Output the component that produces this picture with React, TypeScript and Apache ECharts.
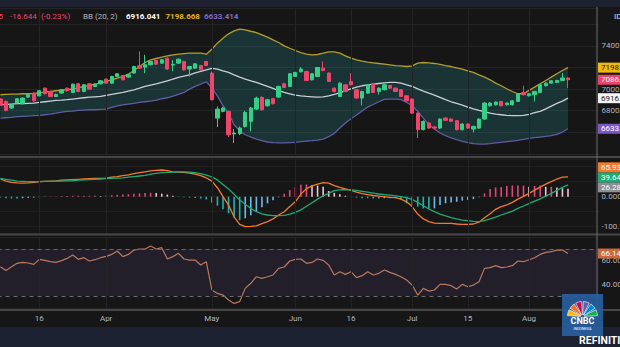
import { useEffect, useRef } from "react";
import * as echarts from "echarts";

const tradingDates = [
  "2022-03-07","2022-03-08","2022-03-09","2022-03-10","2022-03-11","2022-03-14","2022-03-15","2022-03-16","2022-03-17","2022-03-18",
  "2022-03-21","2022-03-22","2022-03-23","2022-03-24","2022-03-25","2022-03-28","2022-03-29","2022-03-30","2022-03-31",
  "2022-04-01","2022-04-04","2022-04-05","2022-04-06","2022-04-07","2022-04-08","2022-04-11","2022-04-12","2022-04-13","2022-04-14",
  "2022-04-18","2022-04-19","2022-04-20","2022-04-21","2022-04-22","2022-04-25","2022-04-26","2022-04-27","2022-04-28",
  "2022-05-09","2022-05-10","2022-05-11","2022-05-12","2022-05-13","2022-05-17","2022-05-18","2022-05-19","2022-05-20",
  "2022-05-23","2022-05-24","2022-05-25","2022-05-27","2022-05-30","2022-05-31",
  "2022-06-02","2022-06-03","2022-06-06","2022-06-07","2022-06-08","2022-06-09","2022-06-10","2022-06-13","2022-06-14","2022-06-15",
  "2022-06-16","2022-06-17","2022-06-20","2022-06-21","2022-06-22","2022-06-23","2022-06-24","2022-06-27","2022-06-28","2022-06-29","2022-06-30",
  "2022-07-01","2022-07-04","2022-07-05","2022-07-06","2022-07-07","2022-07-08","2022-07-11","2022-07-12","2022-07-13","2022-07-14",
  "2022-07-15","2022-07-18","2022-07-19","2022-07-20","2022-07-21","2022-07-22","2022-07-25","2022-07-26","2022-07-27","2022-07-28","2022-07-29",
  "2022-08-01","2022-08-02","2022-08-03","2022-08-04","2022-08-05","2022-08-08","2022-08-09","2022-08-10"
];
const futureDates = ["2022-08-11", "2022-08-12", "2022-08-15", "2022-08-16", "2022-08-18"];

const opens = [
  6908,6886,6825,6871,6865,6926,6963,6938,7009,6978,
  6932,6963,7009,6969,7049,6978,7049,7025,7049,7092,
  7055,7117,7126,7111,7148,7215,7203,7225,7265,7240,
  7286,7222,7240,7255,7185,7194,7218,7255,7148,6732,
  6794,6794,6585,6588,6655,6702,6815,6923,6846,6911,
  6926,7049,7025,7117,7160,7163,7086,7117,7194,7148,
  7009,6932,7040,7071,6994,6917,6963,7049,6978,6994,
  7034,7009,6994,6938,6908,6778,6625,6686,6649,6640,
  6732,6723,6708,6625,6677,6631,6640,6723,6846,6855,
  6886,6855,6855,6886,6969,6938,6948,6969,7031,7055,
  7062,7080,7103.289
];
const highs = [
  6915,6895,6862,6918,6925,6955,6970,6992,7015,6985,
  6958,7000,7015,7052,7055,7046,7055,7052,7083,7098,
  7123,7148,7132,7138,7215,7348,7317,7262,7271,7277,
  7292,7268,7283,7262,7215,7240,7225,7262,7163,6840,
  6835,6800,6631,6655,6800,6835,6930,6935,6910,6918,
  7032,7058,7148,7160,7203,7170,7148,7206,7255,7154,
  7015,7062,7046,7148,7000,6985,7046,7055,7015,7046,
  7040,7015,7000,6945,6915,6785,6711,6695,6660,6730,
  6740,6730,6715,6685,6685,6662,6730,6880,6880,6886,
  6892,6877,6898,6963,7031,6963,6985,7046,7062,7083,
  7086,7148,7108
];
const lows = [
  6845,6794,6815,6865,6858,6920,6885,6932,6950,6925,
  6926,6957,6978,6963,6972,6972,6994,7019,7043,7049,
  7049,7111,7080,7105,7142,7188,7148,7218,7225,7234,
  7178,7165,7234,7172,7117,7188,7172,7212,6895,6649,
  6785,6557,6502,6575,6645,6609,6805,6800,6838,6858,
  6918,7009,7019,7111,7154,7074,7080,7111,7166,7065,
  6970,6926,6972,7034,6911,6850,6957,6963,6950,6988,
  7003,6972,6926,6885,6770,6548,6618,6631,6625,6631,
  6705,6695,6618,6618,6631,6600,6631,6717,6838,6848,
  6840,6848,6848,6880,6942,6932,6886,6963,7025,7049,
  7055,7074,7009
];
const closes = [
  6855,6803,6855,6911,6917,6948,6892,6985,6957,6932,
  6951,6994,6985,7046,6978,7040,7000,7046,7077,7055,
  7117,7142,7086,7132,7209,7194,7225,7255,7231,7271,
  7185,7228,7277,7178,7209,7234,7178,7218,6902,6815,
  6825,6578,6594,6640,6785,6825,6917,6809,6902,6865,
  7025,7015,7142,7154,7185,7080,7142,7200,7172,7071,
  6978,7055,6978,7040,6917,6978,7040,6969,7009,7040,
  7009,6978,6932,6892,6778,6625,6702,6640,6640,6723,
  6711,6702,6625,6677,6640,6655,6723,6871,6871,6880,
  6846,6871,6892,6957,6948,6957,6978,7040,7055,7077,
  7080,7103.289,7086.645
];

const bbUpper = [
  6948,6951,6954,6954,6957,6957,6960,6966,6972,6978,
  6985,6991,6994,7003,7012,7025,7034,7046,7055,7071,
  7086,7102,7117,7138,7172,7209,7246,7271,7283,7295,
  7308,7317,7323,7329,7332,7332,7332,7323,7369,7425,
  7471,7511,7538,7554,7548,7535,7523,7502,7480,7455,
  7431,7400,7378,7357,7338,7323,7317,7320,7332,7345,
  7345,7332,7308,7286,7271,7258,7249,7243,7237,7231,
  7225,7218,7215,7209,7215,7240,7246,7243,7237,7228,
  7218,7209,7197,7185,7169,7154,7132,7111,7086,7055,
  7031,7003,6978,6957,6957,6988,7018,7049,7080,7111,
  7142,7172,7198.668
];
const bbMid = [
  6855,6858,6862,6865,6865,6868,6871,6877,6883,6889,
  6895,6898,6902,6908,6914,6920,6926,6929,6932,6942,
  6951,6960,6969,6982,6994,7009,7025,7037,7049,7062,
  7077,7092,7108,7120,7132,7151,7163,7178,7191,7185,
  7169,7154,7132,7111,7092,7077,7062,7043,7025,7006,
  6985,6969,6957,6945,6938,6932,6929,6926,6929,6938,
  6951,6966,6985,7003,7018,7031,7040,7046,7052,7058,
  7062,7062,7055,7040,7025,7003,6982,6963,6945,6923,
  6902,6883,6868,6852,6834,6818,6803,6791,6778,6769,
  6763,6757,6754,6754,6757,6766,6782,6794,6818,6843,
  6868,6889,6916.041
];
const bbLower = [
  6732,6735,6738,6745,6748,6751,6754,6757,6763,6769,
  6778,6788,6794,6797,6803,6806,6809,6809,6812,6815,
  6831,6846,6855,6862,6868,6877,6883,6889,6898,6911,
  6920,6935,6951,6969,7000,7025,7046,7068,7009,6938,
  6846,6778,6671,6615,6578,6557,6538,6523,6511,6505,
  6502,6502,6505,6508,6514,6520,6523,6529,6538,6560,
  6591,6640,6686,6726,6760,6797,6834,6858,6883,6905,
  6908,6908,6902,6877,6846,6794,6732,6671,6631,6594,
  6569,6548,6532,6517,6505,6495,6492,6492,6495,6502,
  6508,6514,6520,6526,6535,6545,6551,6557,6563,6569,
  6581,6603,6633.414
];

const macdLine = [
  59,52,48,46,45,46,48,50,51,52,
  53,55,56,57,58,59,60,61,61,62,
  65,67,70,73,77,80,83,86,88,89,
  87,83,82,81,79,75,70,63,52,30,
  0,-28,-67,-92,-100,-99,-97,-90,-83,-74,
  -61,-50,-33,-17,9,27,36,42,47,45,
  37,31,26,21,15,10,7,4,2,0,
  -2,-3,-8,-17,-33,-58,-74,-83,-88,-89,
  -89,-89,-91,-92,-92,-91,-85,-70,-57,-42,
  -33,-27,-19,-8,1,11,22,32,42,50,
  59,65,65.932
];
const signalLine = [
  61,58,55,52,51,50,50,50,51,51,
  52,52,53,53,55,56,57,58,59,60,
  61,62,63,65,67,69,71,75,78,80,
  81,82,83,83,82,80,77,72,66,56,
  41,26,8,-11,-25,-39,-50,-57,-61,-63,
  -63,-62,-58,-52,-44,-32,-20,-8,3,11,
  20,23,24,23,21,18,15,12,9,7,
  5,3,0,-3,-9,-19,-30,-41,-50,-58,
  -64,-70,-74,-78,-80,-82,-83,-80,-74,-68,
  -61,-55,-48,-39,-31,-23,-15,-7,2,11,
  21,31,39.643
];
const macdHist = [
  -3,-5,-6,-6,-5,-4,-3,-2,-1,1,
  1,2,2,3,3,3,3,3,2,4,
  5,6,7,8,10,11,12,13,12,10,
  7,3,-1,-2,-3,-4,-6,-9,-20,-30,
  -42,-55,-70,-78,-72,-62,-50,-35,-22,-12,
  -2,10,22,32,40,41,39,37,33,19,
  13,8,3,0,-3,-5,-5,-6,-6,-5,
  -5,-5,-9,-22,-28,-33,-39,-41,-39,-28,
  -22,-19,-17,-13,-11,-8,-2,11,26,31,
  32,36,37,37,37,33,36,37,33,33,
  31,28,26.289
];
const rsi = [
  54.9,51.8,54.9,57.8,58.6,58.1,56.9,61.2,60.3,59.2,
  58.6,60.1,62.0,64.9,61.2,62.6,59.8,60.9,62.6,63.7,
  65.4,68.3,63.5,65.4,69.1,70.0,70.0,72.5,70.0,71.1,
  61.5,63.5,66.3,61.5,60.6,60.6,56.4,59.2,35.1,32.2,
  30.8,26.6,23.7,25.2,36.5,40.8,46.4,45.0,46.4,47.9,
  53.5,54.7,59.8,61.2,61.5,57.8,58.6,61.5,60.3,56.4,
  47.9,50.7,48.4,50.7,45.6,47.3,50.7,47.9,49.3,52.1,
  50.1,48.4,46.4,43.6,39.3,30.8,36.5,34.2,35.1,39.9,
  39.9,38.8,35.9,39.9,37.9,39.3,42.2,53.5,54.1,55.8,
  54.1,54.7,55.8,59.8,59.2,60.9,62.6,65.4,67.1,67.7,
  69.1,69.1,66.14
];

const xTickDates = ["2022-03-16","2022-04-01","2022-05-09","2022-06-02","2022-06-16","2022-07-01","2022-07-15","2022-08-01"];
const xTickLabels = ["16","Apr","May","Jun","16","Jul","15","Aug"];
const priceTickLabels = [6800, 7000, 7400];
const macdTickLabels = [0, -100];
const rsiTickLabels = [60, 40];
const rsiLevels = [70, 30];

const COL = {
  bg: "#161616",
  up: "#35cf87",
  down: "#f0456a",
  upper: "#b39d2c",
  mid: "#c9cfd3",
  lower: "#5f5ca2",
  fill: "rgba(40,130,135,0.28)",
  grid: "#242424",
  axisText: "#b2b5be",
  macd: "#f27a2a",
  signal: "#20aa74",
  rsi: "#b9785f",
  sep: "#464646",
};

export default function App() {
  const ref = useRef<HTMLDivElement>(null);

  useEffect(() => {
    if (!ref.current) return;
    const chart = echarts.init(ref.current, undefined, { renderer: "svg" });
    const font = "Roboto, 'Noto Sans', sans-serif";
    const cats = tradingDates.concat(futureDates);
    const candleData = tradingDates.map((_, i) => [opens[i], closes[i], lows[i], highs[i]]);
    const bandSpan = bbUpper.map((u, i) => +(u - bbLower[i]).toFixed(3));
    const histColors = macdHist.map((h, i) => {
      const prev = i > 0 ? macdHist[i - 1] : h;
      if (h >= 0) return h >= prev ? "#e2487d" : "#f2c3d2";
      return h <= prev ? "#22b1b3" : "#6db9ec";
    });
    const gridL = -2.4;
    const gridW = 601;
    const vLines = {
      silent: true,
      symbol: ["none", "none"],
      label: { show: false },
      lineStyle: { color: COL.grid, width: 1, type: "solid" },
      data: xTickDates.map((d) => ({ xAxis: d })),
    };
    const hiddenX = (gi: number) => ({
      type: "category",
      gridIndex: gi,
      data: cats,
      axisLine: { show: false },
      axisTick: { show: false },
      axisLabel: { show: false },
      splitLine: { show: false },
    });
    const gridBase = { left: gridL, width: gridW, outerBoundsMode: "none", containLabel: false };

    const option: any = {
      animation: false,
      backgroundColor: COL.bg,
      textStyle: { fontFamily: font },
      grid: [
        { ...gridBase, top: 8, height: 146 },
        { ...gridBase, top: 159, height: 74 },
        { ...gridBase, top: 237.25, height: 70.5 },
      ],
      xAxis: [
        hiddenX(0),
        hiddenX(1),
        {
          type: "category",
          gridIndex: 2,
          data: cats,
          axisLine: { show: false },
          axisTick: { show: false },
          splitLine: { show: false },
          axisLabel: {
            color: COL.axisText,
            fontSize: 8,
            margin: 7,
            interval: (_i: number, v: string) => xTickDates.includes(v),
            formatter: (v: string) => {
              const k = xTickDates.indexOf(v);
              return k >= 0 ? xTickLabels[k] : "";
            },
          },
        },
      ],
      yAxis: [
        {
          gridIndex: 0, position: "right", min: 6400, max: 7750, interval: 200,
          axisLine: { show: false }, axisTick: { show: false },
          splitLine: { lineStyle: { color: COL.grid } },
          axisLabel: {
            color: COL.axisText, fontSize: 8, margin: 3,
            formatter: (v: number) => (priceTickLabels.includes(v) ? String(v) : ""),
          },
        },
        {
          gridIndex: 1, position: "right", min: -121, max: 125.7, splitNumber: 5,
          axisLine: { show: false }, axisTick: { show: false },
          splitLine: { lineStyle: { color: "#1f1f1f" } },
          axisLabel: {
            color: COL.axisText, fontSize: 8, margin: 3,
            formatter: (v: number) => (macdTickLabels.includes(v) ? v.toFixed(3) : ""),
          },
        },
        {
          gridIndex: 2, position: "right", min: 20, max: 80, interval: 20,
          axisLine: { show: false }, axisTick: { show: false },
          splitLine: { lineStyle: { color: "#232323" } },
          axisLabel: {
            color: COL.axisText, fontSize: 8, margin: 3,
            formatter: (v: number) => (rsiTickLabels.includes(v) ? v.toFixed(2) : ""),
          },
        },
      ],
      series: [
        {
          name: "bbBase", type: "line", xAxisIndex: 0, yAxisIndex: 0, data: bbLower, stack: "bb",
          symbol: "none", lineStyle: { opacity: 0 }, silent: true, z: 1, markLine: vLines,
        },
        {
          name: "bbFill", type: "line", xAxisIndex: 0, yAxisIndex: 0, data: bandSpan, stack: "bb",
          symbol: "none", lineStyle: { opacity: 0 }, areaStyle: { color: COL.fill, opacity: 1 }, silent: true, z: 2,
        },
        { name: "Upper", type: "line", xAxisIndex: 0, yAxisIndex: 0, data: bbUpper, symbol: "none", lineStyle: { color: COL.upper, width: 1.3 }, z: 3 },
        { name: "Basis", type: "line", xAxisIndex: 0, yAxisIndex: 0, data: bbMid, symbol: "none", lineStyle: { color: COL.mid, width: 1.3 }, z: 3 },
        { name: "Lower", type: "line", xAxisIndex: 0, yAxisIndex: 0, data: bbLower, symbol: "none", lineStyle: { color: COL.lower, width: 1.3 }, z: 3 },
        {
          name: "Price", type: "candlestick", xAxisIndex: 0, yAxisIndex: 0, data: candleData, barWidth: 3.8, z: 5,
          itemStyle: { color: COL.up, color0: COL.down, borderColor: COL.up, borderColor0: COL.down, borderWidth: 1 },
        },
        {
          name: "Histogram", type: "bar", xAxisIndex: 1, yAxisIndex: 1, data: macdHist, barWidth: 1.6, z: 2,
          itemStyle: { color: (p: any) => histColors[p.dataIndex] }, markLine: vLines,
        },
        { name: "MACD", type: "line", xAxisIndex: 1, yAxisIndex: 1, data: macdLine, symbol: "none", lineStyle: { color: COL.macd, width: 1.3 }, z: 3 },
        { name: "Signal", type: "line", xAxisIndex: 1, yAxisIndex: 1, data: signalLine, symbol: "none", lineStyle: { color: COL.signal, width: 1.3 }, z: 3 },
        {
          name: "RSI", type: "line", xAxisIndex: 2, yAxisIndex: 2, data: rsi, symbol: "none",
          lineStyle: { color: COL.rsi, width: 1.2 }, z: 4,
          markArea: { silent: true, itemStyle: { color: "#221f2a" }, data: [[{ yAxis: rsiLevels[1] }, { yAxis: rsiLevels[0] }]] },
          markLine: {
            silent: true, symbol: ["none", "none"], label: { show: false },
            data: [
              ...xTickDates.map((d) => ({ xAxis: d, lineStyle: { color: COL.grid, width: 1, type: "solid" } })),
              ...rsiLevels.map((v) => ({ yAxis: v, lineStyle: { color: "#6a6a6a", width: 1, type: [4, 4] } })),
            ],
          },
        },
      ],
    };
    chart.setOption(option);

    const n = tradingDates.length - 1;
    const lastClose = closes[n];
    const prevClose = closes[n - 1];
    const chg = lastClose - prevClose;
    const pct = (chg / prevClose) * 100;

    const txt = (text: string, x: number, y: number, fill: string, extra: any = {}) => ({
      type: "text", z: 50, silent: true,
      style: { text, x, y, fill, fontSize: 8, fontFamily: font, verticalAlign: "middle", ...extra },
    });

    const feathers = ["#fcb711", "#f37021", "#cc004c", "#6460aa", "#0089d0", "#0db14b"];
    const statics: any[] = [
      { type: "rect", z: 40, silent: true, shape: { x: 0, y: 0, width: 620, height: 7 }, style: { fill: "#1e2230" } },
      { type: "rect", z: 40, silent: true, shape: { x: 0, y: 327, width: 620, height: 20 }, style: { fill: "#1c2131" } },
      { type: "line", z: 40, silent: true, shape: { x1: 0, y1: 157, x2: 620, y2: 157 }, style: { stroke: COL.sep, lineWidth: 2 } },
      { type: "line", z: 40, silent: true, shape: { x1: 0, y1: 234.5, x2: 620, y2: 234.5 }, style: { stroke: COL.sep, lineWidth: 2 } },
      { type: "line", z: 40, silent: true, shape: { x1: 0, y1: 310, x2: 620, y2: 310 }, style: { stroke: COL.sep, lineWidth: 2 } },
      { type: "line", z: 41, silent: true, shape: { x1: 597, y1: 7, x2: 597, y2: 310 }, style: { stroke: "#6c6c6c", lineWidth: 1 } },
      txt(`C${lastClose.toFixed(3)}`, 3, 16.7, COL.down, { align: "right" }),
      txt(chg.toFixed(3), 10, 16.7, COL.down),
      txt(`(${pct.toFixed(2)}%)`, 41, 16.7, COL.down),
      txt("BB (20, 2)", 83, 16.7, COL.axisText),
      txt(bbMid[n].toFixed(3), 126, 16.7, "#ffffff", { fontWeight: "bold" }),
      txt(bbUpper[n].toFixed(3), 165.5, 16.7, "#e3b21e", { fontWeight: "bold" }),
      txt(bbLower[n].toFixed(3), 204, 16.7, "#7d6cc9", { fontWeight: "bold" }),
      txt("ID", 614, 16, "#e0e0e0"),
      { type: "rect", z: 60, silent: true, shape: { x: 562, y: 294, width: 41, height: 42 }, style: { fill: "#28609f", opacity: 0.92 } },
      ...feathers.map((c, k) => ({
        type: "sector", z: 61, silent: true,
        shape: {
          cx: 582.5, cy: 316.5, r: 15, r0: 2,
          startAngle: Math.PI + (k * Math.PI) / 6 + 0.06,
          endAngle: Math.PI + ((k + 1) * Math.PI) / 6 - 0.06,
        },
        style: { fill: c, stroke: "#ffffff", lineWidth: 0.6 },
      })),
      { type: "text", z: 62, silent: true, style: { text: "CNBC", x: 582.5, y: 321, fill: "#ffffff", fontSize: 9, fontWeight: "bold", fontFamily: font, align: "center", verticalAlign: "middle" } },
      { type: "text", z: 62, silent: true, style: { text: "INDONESIA", x: 582.5, y: 328.5, fill: "#ffffff", fontSize: 3.5, fontFamily: font, align: "center", verticalAlign: "middle" } },
      txt("REFINITIV", 579, 340, "#ffffff", { fontSize: 10.5, fontWeight: "bold" }),
    ];

    const tag = (y: number, text: string, bg: string, fg: string) => ({
      type: "group", z: 70, silent: true,
      children: [
        { type: "rect", z: 70, shape: { x: 598, y: y - 5, width: 26, height: 10 }, style: { fill: bg } },
        { type: "text", z: 71, style: { text, x: 601, y, fill: fg, fontSize: 8, fontFamily: font, verticalAlign: "middle" } },
      ],
    });
    const py = (axis: number, v: number) => chart.convertToPixel({ yAxisIndex: axis }, v) as number;

    // MACD pane tags stacked upward to avoid overlap
    const macdItems = [
      { v: macdHist[n], bg: "#8d8f94", fg: "#ffffff" },
      { v: signalLine[n], bg: "#1fa974", fg: "#ffffff" },
      { v: macdLine[n], bg: "#f27a2a", fg: "#ffffff" },
    ];
    let lastY = Infinity;
    const macdTags = macdItems.map((it) => {
      let y = py(1, it.v) - 1.5;
      if (y > lastY - 10) y = lastY - 10;
      lastY = y;
      return tag(y, it.v.toFixed(3), it.bg, it.fg);
    });

    const tags = [
      tag(py(0, bbUpper[n]), bbUpper[n].toFixed(3), "#f2b80c", "#1a1a1a"),
      tag(py(0, lastClose), lastClose.toFixed(3), "#ea4469", "#ffffff"),
      tag(py(0, bbMid[n]), bbMid[n].toFixed(3), "#f4f4f4", "#1a1a1a"),
      tag(py(0, bbLower[n]), bbLower[n].toFixed(3), "#7e57c2", "#ffffff"),
      ...macdTags,
      tag(py(2, rsi[n]), rsi[n].toFixed(2), "#c9693c", "#ffffff"),
    ];

    chart.setOption({ graphic: [...statics, ...tags] });

    return () => chart.dispose();
  }, []);

  return (
    <div
      ref={ref}
      style={{ position: "fixed", left: 0, top: 0, width: 620, height: 347, background: COL.bg }}
    />
  );
}
